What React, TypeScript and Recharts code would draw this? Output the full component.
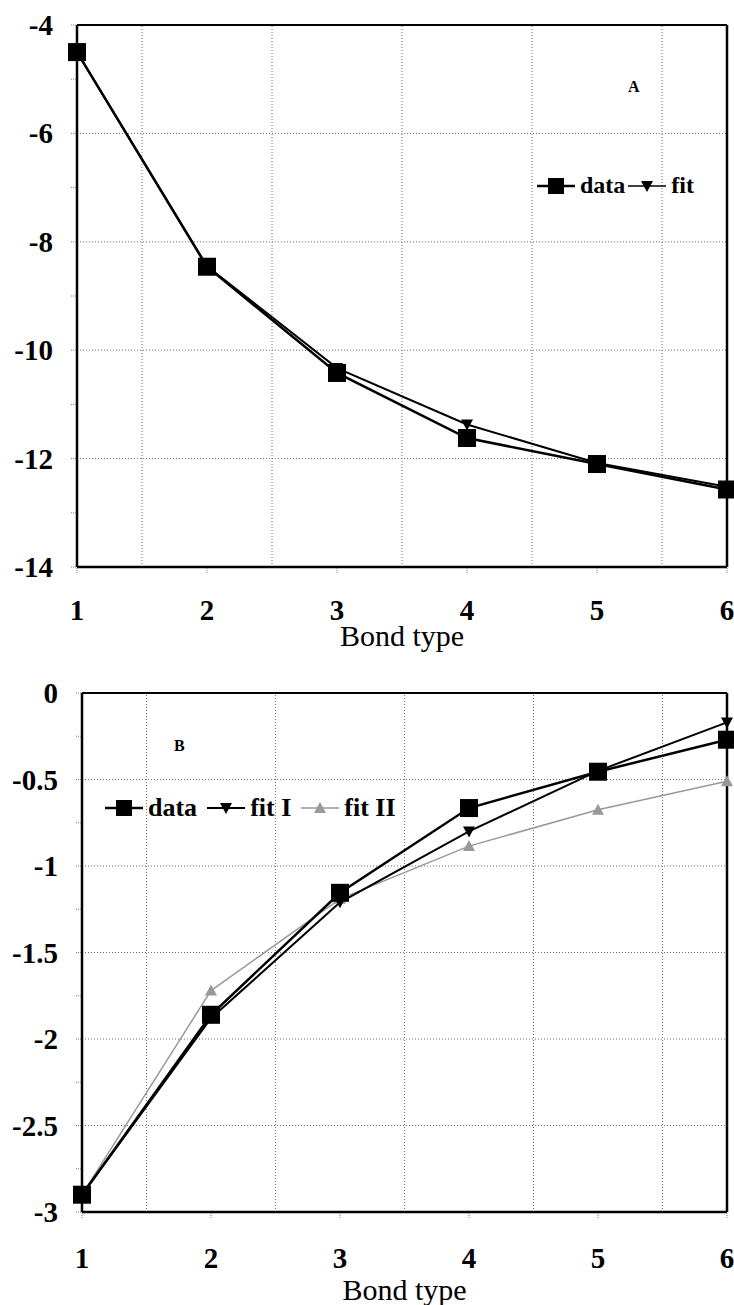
import { LineChart, Line, XAxis, YAxis, ReferenceLine, Legend } from 'recharts';

const bondTypes = [1, 2, 3, 4, 5, 6];

// panel A
const aData = [-4.5, -8.46, -10.42, -11.62, -12.1, -12.57];
const aFit = [-4.5, -8.45, -10.33, -11.37, -12.08, -12.52];
const aTicks = [-14, -13, -12, -11, -10, -9, -8, -7, -6, -5, -4];
const aMajor = [-14, -12, -10, -8, -6, -4];

// panel B
const bData = [-2.9, -1.86, -1.155, -0.665, -0.455, -0.27];
const bFitI = [-2.9, -1.88, -1.21, -0.8, -0.45, -0.17];
const bFitII = [-2.9, -1.72, -1.19, -0.885, -0.675, -0.51];
const bTicks = [-3, -2.75, -2.5, -2.25, -2, -1.75, -1.5, -1.25, -1, -0.75, -0.5, -0.25, 0];
const bMajor = [-3, -2.5, -2, -1.5, -1, -0.5, 0];

const xGrid = [1.5, 2.5, 3.5, 4.5, 5.5];

const FONT = 'Liberation Serif, DejaVu Serif, serif';
const GRID = '#6f6f6f';

const tableA = bondTypes.map((x, i) => ({ x, data: aData[i], fit: aFit[i] }));
const tableB = bondTypes.map((x, i) => ({ x, data: bData[i], fitI: bFitI[i], fitII: bFitII[i] }));

const Square = (p: any) =>
  p.cx == null ? null : (
    <rect key={`s${p.index}`} x={p.cx - 9} y={p.cy - 9} width={18} height={18} fill="#000" />
  );
const DownTri = (p: any) =>
  p.cx == null ? null : (
    <polygon
      key={`d${p.index}`}
      points={`${p.cx - 6},${p.cy - 5} ${p.cx + 6},${p.cy - 5} ${p.cx},${p.cy + 6}`}
      fill="#000"
    />
  );
const UpTri = (p: any) =>
  p.cx == null ? null : (
    <polygon
      key={`u${p.index}`}
      points={`${p.cx - 6},${p.cy + 5} ${p.cx + 6},${p.cy + 5} ${p.cx},${p.cy - 6}`}
      fill="#999"
    />
  );

const makeYTick = (major: number[]) => (p: any) => {
  const v = p.payload.value;
  if (!major.includes(v)) return <g />;
  return (
    <text x={p.x - 16} y={p.y} dy={10} textAnchor="end" fontFamily={FONT} fontWeight="bold" fontSize={29} fill="#000">
      {String(v)}
    </text>
  );
};

const makeXTick = (dy: number) => (p: any) => (
  <text x={p.x} y={p.y} dy={dy} textAnchor="middle" fontFamily={FONT} fontWeight="bold" fontSize={29} fill="#000">
    {p.payload.value}
  </text>
);

type Item = { name: string; marker: 'square' | 'down' | 'up'; color: string; width: number };

const Icon = ({ item }: { item: Item }) => (
  <svg width={38} height={20} style={{ display: 'inline-block', verticalAlign: 'middle' }}>
    <line x1={0} y1={10} x2={38} y2={10} stroke={item.color} strokeWidth={item.width} />
    {item.marker === 'square' && <rect x={11} y={2} width={16} height={16} fill="#000" />}
    {item.marker === 'down' && <polygon points="13,5 25,5 19,16" fill="#000" />}
    {item.marker === 'up' && <polygon points="13,15 25,15 19,4" fill="#999" />}
  </svg>
);

const makeLegend = (items: Item[], fontSize: number, gap: number) => () => (
  <div style={{ display: 'flex', alignItems: 'center', fontFamily: FONT, fontWeight: 'bold', fontSize, whiteSpace: 'nowrap' }}>
    {items.map((it, i) => (
      <span key={it.name} style={{ display: 'flex', alignItems: 'center', marginLeft: i === 0 ? 0 : gap }}>
        <Icon item={it} />
        <span style={{ marginLeft: 5 }}>{it.name}</span>
      </span>
    ))}
  </div>
);

const legendA: Item[] = [
  { name: 'data', marker: 'square', color: '#000', width: 2.5 },
  { name: 'fit', marker: 'down', color: '#000', width: 1.5 },
];
const legendB: Item[] = [
  { name: 'data', marker: 'square', color: '#000', width: 2.5 },
  { name: 'fit I', marker: 'down', color: '#000', width: 2 },
  { name: 'fit II', marker: 'up', color: '#999', width: 1.5 },
];

const gridLines = (yMajor: number[], yMax: number) => [
  ...xGrid.map((x) => (
    <ReferenceLine key={`vx${x}`} x={x} stroke={GRID} strokeDasharray="1 2" strokeWidth={1} />
  )),
  ...yMajor
    .filter((y) => y !== yMax && y !== yMajor[0])
    .map((y) => <ReferenceLine key={`hy${y}`} y={y} stroke={GRID} strokeDasharray="1 2" strokeWidth={1} />),
  <ReferenceLine key="top" y={yMax} stroke="#000" strokeWidth={2} />,
  <ReferenceLine key="right" x={6} stroke="#000" strokeWidth={2.5} />,
];

const labelStyle = { value: 'Bond type', position: 'insideBottom' as const, fill: '#000', fontSize: 30, fontFamily: FONT };

export default function App() {
  return (
    <div style={{ position: 'absolute', left: 0, top: 0, width: 734, height: 1305, background: '#fff', fontFamily: FONT }}>
      <div style={{ position: 'relative', width: 734, height: 655 }}>
        <LineChart width={734} height={655} data={tableA} margin={{ top: 25, right: 7, bottom: 0, left: 0 }}>
          {gridLines(aMajor, -4)}
          <XAxis
            dataKey="x"
            type="number"
            domain={[1, 6]}
            ticks={bondTypes}
            height={88}
            axisLine={{ stroke: '#000', strokeWidth: 2.5 }}
            tickLine={{ stroke: '#777', strokeDasharray: '1 1' }}
            tickSize={6}
            tick={makeXTick(45)}
            label={{ ...labelStyle, offset: 9 }}
          />
          <YAxis
            type="number"
            domain={[-14, -4]}
            ticks={aTicks}
            width={77}
            interval={0}
            axisLine={{ stroke: '#000', strokeWidth: 2.5 }}
            tickLine={{ stroke: '#777', strokeDasharray: '1 1' }}
            tickSize={6}
            tick={makeYTick(aMajor)}
          />
          <Legend
            layout="horizontal"
            verticalAlign="middle"
            align="center"
            content={makeLegend(legendA, 24, 3)}
            wrapperStyle={{ position: 'absolute', left: 537, top: 172, width: 'auto', bottom: 'auto' }}
          />
          <Line dataKey="fit" stroke="#000" strokeWidth={2} dot={DownTri} isAnimationActive={false} />
          <Line dataKey="data" stroke="#000" strokeWidth={2.5} dot={Square} isAnimationActive={false} />
        </LineChart>
        <div style={{ position: 'absolute', left: 628, top: 78, fontSize: 16, fontWeight: 'bold' }}>A</div>
      </div>
      <div style={{ position: 'relative', width: 734, height: 650 }}>
        <LineChart width={734} height={650} data={tableB} margin={{ top: 38, right: 7, bottom: 0, left: 0 }}>
          {gridLines(bMajor, 0)}
          <XAxis
            dataKey="x"
            type="number"
            domain={[1, 6]}
            ticks={bondTypes}
            height={93}
            axisLine={{ stroke: '#000', strokeWidth: 2.5 }}
            tickLine={{ stroke: '#777', strokeDasharray: '1 1' }}
            tickSize={6}
            tick={makeXTick(48)}
            label={{ ...labelStyle, offset: 5 }}
          />
          <YAxis
            type="number"
            domain={[-3, 0]}
            ticks={bTicks}
            width={82}
            interval={0}
            axisLine={{ stroke: '#000', strokeWidth: 2.5 }}
            tickLine={{ stroke: '#777', strokeDasharray: '1 1' }}
            tickSize={6}
            tick={makeYTick(bMajor)}
          />
          <Legend
            layout="horizontal"
            verticalAlign="middle"
            align="center"
            content={makeLegend(legendB, 26, 10)}
            wrapperStyle={{ position: 'absolute', left: 105, top: 138, width: 'auto', bottom: 'auto' }}
          />
          <Line dataKey="fitII" stroke="#999" strokeWidth={1.5} dot={UpTri} isAnimationActive={false} />
          <Line dataKey="fitI" stroke="#000" strokeWidth={2} dot={DownTri} isAnimationActive={false} />
          <Line dataKey="data" stroke="#000" strokeWidth={2.5} dot={Square} isAnimationActive={false} />
        </LineChart>
        <div style={{ position: 'absolute', left: 174, top: 82, fontSize: 16, fontWeight: 'bold' }}>B</div>
      </div>
    </div>
  );
}
